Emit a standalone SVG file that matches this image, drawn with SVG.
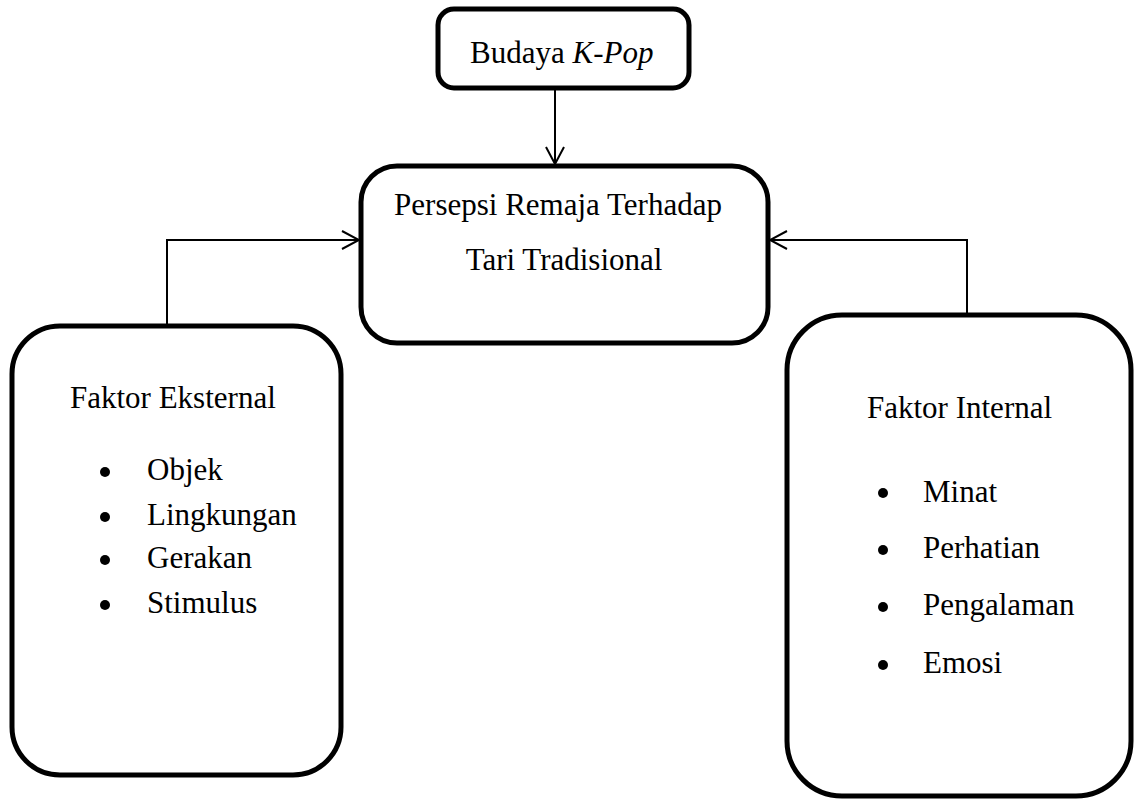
<svg xmlns="http://www.w3.org/2000/svg" width="1135" height="800" viewBox="0 0 1135 800">
<defs>
<style>
.box{fill:#fff;stroke:#000;stroke-width:5}
.t{font-family:"Liberation Serif","Times New Roman",serif;font-size:31px;fill:#000}
.c{stroke:#000;stroke-width:2;fill:none}
.b{fill:#000}
</style>
<marker id="ah" viewBox="0 0 20 20" refX="18" refY="10" markerWidth="20" markerHeight="20" markerUnits="userSpaceOnUse" orient="auto">
<path d="M1,1 L18,10 L1,19" fill="none" stroke="#000" stroke-width="2"/>
</marker>
</defs>
<g id="connectors">
<path class="c" d="M555,88 V164" marker-end="url(#ah)"/>
<path class="c" d="M167,325 V240 H359" marker-end="url(#ah)"/>
<path class="c" d="M967,314 V240 H770" marker-end="url(#ah)"/>
</g>
<g id="node-kpop">
<rect class="box" x="438" y="9" width="251" height="79" rx="16"/>
<text class="t" x="470" y="63">Budaya <tspan font-style="italic">K-Pop</tspan></text>
</g>
<g id="node-persepsi">
<rect class="box" x="361" y="166" width="407" height="177" rx="36"/>
<text class="t" x="558" y="215" text-anchor="middle">Persepsi Remaja Terhadap</text>
<text class="t" x="564" y="270" text-anchor="middle">Tari Tradisional</text>
</g>
<g id="node-eksternal">
<rect class="box" x="12" y="326" width="329" height="449" rx="48"/>
<text class="t" x="70" y="408">Faktor Eksternal</text>
<circle class="b" cx="105" cy="472" r="5"/>
<text class="t" x="147" y="480">Objek</text>
<circle class="b" cx="105" cy="517" r="5"/>
<text class="t" x="147" y="525">Lingkungan</text>
<circle class="b" cx="105" cy="560" r="5"/>
<text class="t" x="147" y="568">Gerakan</text>
<circle class="b" cx="105" cy="605" r="5"/>
<text class="t" x="147" y="613">Stimulus</text>
</g>
<g id="node-internal">
<rect class="box" x="787" y="315" width="344" height="481" rx="55"/>
<text class="t" x="867" y="418">Faktor Internal</text>
<circle class="b" cx="883" cy="493" r="5"/>
<text class="t" x="923" y="502">Minat</text>
<circle class="b" cx="883" cy="550" r="5"/>
<text class="t" x="923" y="558">Perhatian</text>
<circle class="b" cx="883" cy="607" r="5"/>
<text class="t" x="923" y="615">Pengalaman</text>
<circle class="b" cx="883" cy="665" r="5"/>
<text class="t" x="923" y="673">Emosi</text>
</g>
</svg>
